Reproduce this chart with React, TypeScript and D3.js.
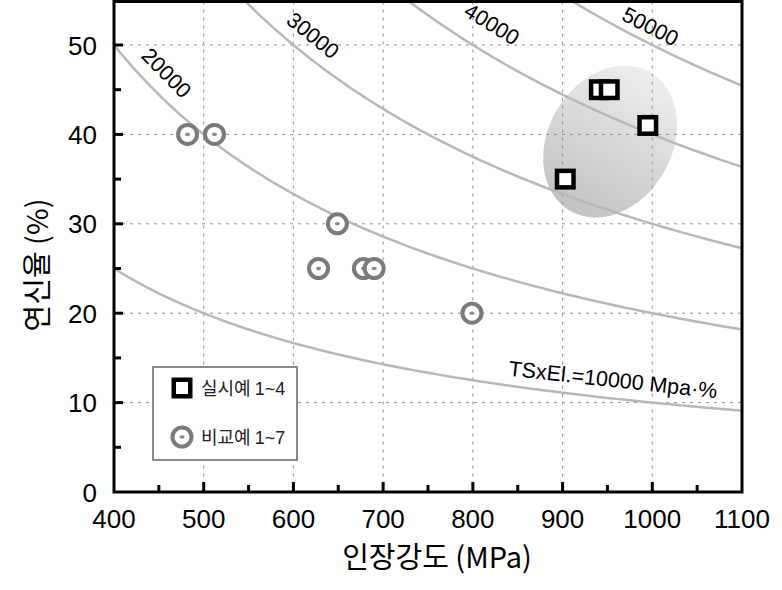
import React, { useRef, useEffect } from "react";
import * as d3 from "d3";

// 실시예 (examples) and 비교예 (comparative examples): tensile strength (MPa), elongation (%)
const exampleTS = [903, 941, 952, 995];
const exampleEl = [35, 45, 45, 41];
const compareTS = [482, 512, 649, 628, 678, 690, 799];
const compareEl = [40, 40, 30, 25, 25, 25, 20];

// TS x El iso-lines
const isoValues = [10000, 20000, 30000, 40000, 50000];
// label anchors: TS position along each curve and perpendicular offset (px)
const isoLabelTS = [954, 442, 608, 805, 990];
const isoLabelOffset = [17, 19, 18, 26, 14];
const isoLabelText = ["TSxEl.=10000 Mpa·%", "20000", "30000", "40000", "50000"];

const xTicks = [400, 500, 600, 700, 800, 900, 1000, 1100];
const yTicks = [0, 10, 20, 30, 40, 50];

const legendName = ["실시예", "비교예"];
const legendRange = ["1~4", "1~7"];

function App() {
  const svgRef = useRef<SVGSVGElement>(null);

  useEffect(() => {
    document.body.style.margin = "0";
    if (!svgRef.current) return;
    const svg = d3.select(svgRef.current);
    svg.selectAll("*").remove();
    const width = 782;
    const height = 590;
    svg.attr("width", width).attr("height", height);

    const left = 114, right = 742, top = 1.5, bottom = 492;
    const x = d3.scaleLinear().domain([400, 1100]).range([left, right]);
    const y = d3.scaleLinear().domain([0, 55]).range([bottom, 0.3]);

    svg.append("rect").attr("width", width).attr("height", height).attr("fill", "#fff");

    const defs = svg.append("defs");
    defs.append("clipPath").attr("id", "plotclip")
      .append("rect").attr("x", left).attr("y", top).attr("width", right - left).attr("height", bottom - top);
    const grad = defs.append("linearGradient").attr("id", "ellgrad")
      .attr("x1", "0").attr("y1", "0.5").attr("x2", "1").attr("y2", "0.5");
    grad.append("stop").attr("offset", "0").attr("stop-color", "#c2c2c2");
    grad.append("stop").attr("offset", "1").attr("stop-color", "#eeeeee");

    const plot = svg.append("g").attr("clip-path", "url(#plotclip)");

    // highlighted region around the examples
    plot.append("ellipse")
      .attr("transform", `translate(${x(953)},${y(39.2)}) rotate(-60)`)
      .attr("rx", 80).attr("ry", 62)
      .attr("fill", "url(#ellgrad)");

    // dashed grid
    const grid = plot.append("g").attr("stroke", "#909090").attr("stroke-width", 1).attr("stroke-dasharray", "3,5");
    grid.selectAll("line.v").data(xTicks.slice(1, -1)).enter().append("line")
      .attr("x1", (d) => x(d)).attr("x2", (d) => x(d)).attr("y1", top).attr("y2", bottom);
    grid.selectAll("line.h").data(yTicks.slice(1)).enter().append("line")
      .attr("y1", (d) => y(d)).attr("y2", (d) => y(d)).attr("x1", left).attr("x2", right);

    // iso curves El = C / TS
    const tsSamples = d3.range(400, 1101, 5);
    const line = d3.line<number>().x((d) => x(d[0])).y((d) => y(d[1]));
    isoValues.forEach((c) => {
      plot.append("path")
        .datum(tsSamples.map((t) => [t, c / t]) as any)
        .attr("d", line as any)
        .attr("fill", "none")
        .attr("stroke", "#b8b8b8")
        .attr("stroke-width", 2.5);
    });

    // iso labels
    isoValues.forEach((c, i) => {
      const t = isoLabelTS[i];
      const px = x(t), py = y(c / t);
      const dx = x(t + 1) - px;
      const dy = y(c / (t + 1)) - py;
      const ang = Math.atan2(dy, dx);
      const nx = Math.sin(ang), ny = -Math.cos(ang);
      const off = isoLabelOffset[i];
      svg.append("text")
        .attr("transform", `translate(${px + nx * off},${py + ny * off}) rotate(${(ang * 180) / Math.PI})`)
        .attr("text-anchor", "middle")
        .attr("dominant-baseline", "middle")
        .attr("font-family", "Liberation Sans, Arial, sans-serif")
        .attr("font-size", 21.5)
        .attr("fill", "#000")
        .text(isoLabelText[i]);
    });

    // comparative examples: gray rings with centre dot
    const circ = svg.append("g");
    compareTS.forEach((t, i) => {
      const g = circ.append("g").attr("transform", `translate(${x(t)},${y(compareEl[i])})`);
      g.append("circle").attr("r", 9.5).attr("fill", "#fff").attr("stroke", "#7a7a7a").attr("stroke-width", 4);
      g.append("ellipse").attr("rx", 2.5).attr("ry", 1.8).attr("fill", "#8a8a8a");
    });

    // examples: black squares
    const sq = 16.5;
    svg.append("g").selectAll("rect").data(exampleTS).enter().append("rect")
      .attr("x", (d) => x(d) - sq / 2)
      .attr("y", (d, i) => y(exampleEl[i]) - sq / 2)
      .attr("width", sq).attr("height", sq)
      .attr("fill", "#fff").attr("stroke", "#000").attr("stroke-width", 4.5);

    // frame
    svg.append("rect").attr("x", left).attr("y", top).attr("width", right - left).attr("height", bottom - top)
      .attr("fill", "none").attr("stroke", "#000").attr("stroke-width", 3);

    // ticks (inward)
    const tk = svg.append("g").attr("stroke", "#000").attr("stroke-width", 3);
    d3.range(400, 1101, 50).forEach((v) => {
      if (v === 400 || v === 1100) return;
      const len = v % 100 === 0 ? 10 : 7;
      tk.append("line").attr("x1", x(v)).attr("x2", x(v)).attr("y1", bottom).attr("y2", bottom - len);
    });
    d3.range(0, 55.1, 5).forEach((v) => {
      if (v === 0) return;
      const len = v % 10 === 0 ? 9 : 7;
      tk.append("line").attr("x1", left).attr("x2", left + len).attr("y1", y(v)).attr("y2", y(v));
    });

    // tick labels
    const font = "Liberation Sans, Arial, sans-serif";
    svg.append("g").selectAll("text").data(xTicks).enter().append("text")
      .attr("x", (d) => x(d)).attr("y", 528)
      .attr("text-anchor", "middle")
      .attr("font-family", font).attr("font-size", 26)
      .text((d) => d);
    svg.append("g").selectAll("text").data(yTicks).enter().append("text")
      .attr("x", 97).attr("y", (d) => y(d) + 9.5)
      .attr("text-anchor", "end")
      .attr("font-family", font).attr("font-size", 26)
      .text((d) => d);

    // axis titles
    const kfont = "'Noto Sans CJK KR', 'Noto Sans', sans-serif";
    svg.append("text")
      .attr("x", 437).attr("y", 568)
      .attr("text-anchor", "middle")
      .attr("font-family", kfont).attr("font-size", 29)
      .text("인장강도 (MPa)");
    svg.append("text")
      .attr("transform", `translate(48,265) rotate(-90)`)
      .attr("text-anchor", "middle")
      .attr("font-family", kfont).attr("font-size", 29)
      .text("연신율 (%)");

    // legend
    const lg = svg.append("g");
    lg.append("rect").attr("x", 153).attr("y", 367).attr("width", 144).attr("height", 93)
      .attr("fill", "#fff").attr("stroke", "#8a8a8a").attr("stroke-width", 2);
    lg.append("rect").attr("x", 182 - sq / 2).attr("y", 388 - sq / 2).attr("width", sq).attr("height", sq)
      .attr("fill", "#fff").attr("stroke", "#000").attr("stroke-width", 4.5);
    lg.append("circle").attr("cx", 182).attr("cy", 437).attr("r", 9.5)
      .attr("fill", "#fff").attr("stroke", "#7a7a7a").attr("stroke-width", 4);
    lg.append("ellipse").attr("cx", 182).attr("cy", 437).attr("rx", 2.5).attr("ry", 1.8).attr("fill", "#8a8a8a");
    legendName.forEach((name, i) => {
      const t = lg.append("text")
        .attr("x", 201).attr("y", [388, 437][i] + 6.5)
        .attr("font-size", 18)
        .attr("fill", "#222");
      t.append("tspan").attr("font-family", kfont).text(name + " ");
      t.append("tspan").attr("font-family", font).text(legendRange[i]);
    });
  }, []);

  return <svg ref={svgRef}></svg>;
}

export default App;
